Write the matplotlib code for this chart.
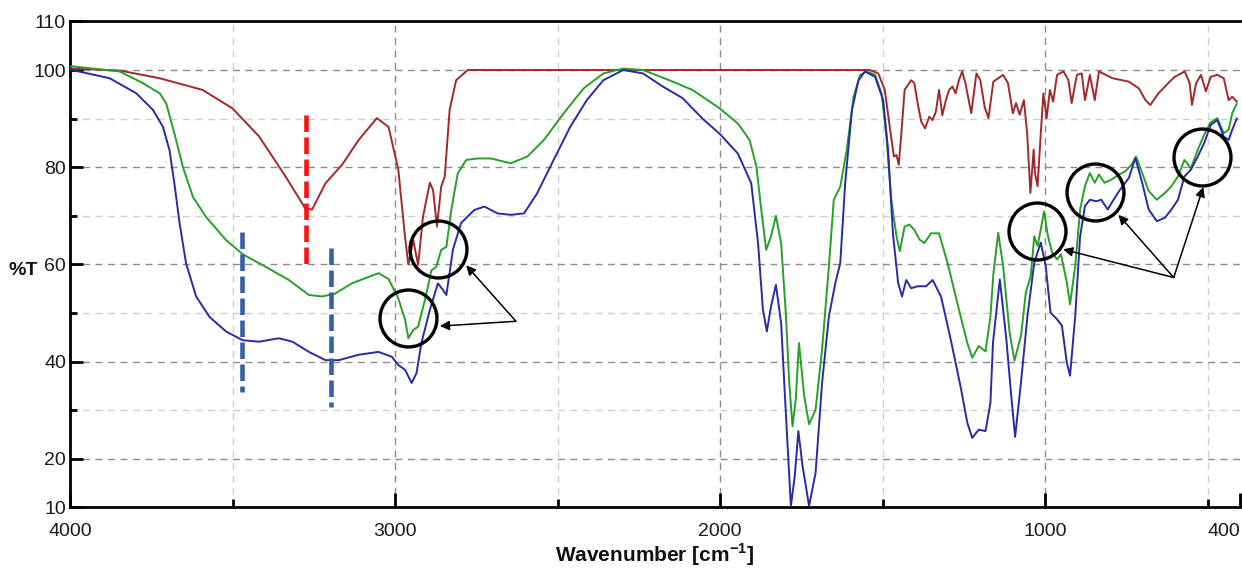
import numpy as np
import matplotlib
matplotlib.use('Agg')
from matplotlib import pyplot as plt
from matplotlib.ticker import FixedLocator

plt.rcParams['font.family'] = ['Liberation Sans', 'DejaVu Sans']
plt.rcParams['mathtext.fontset'] = 'custom'
plt.rcParams['mathtext.rm'] = 'Liberation Sans:bold'
plt.rcParams['mathtext.bf'] = 'Liberation Sans:bold'

# spectra: wavenumber (cm-1) and %T
red_wn = [4000, 3847, 3724, 3592, 3500, 3418, 3337, 3276, 3255, 3214, 3163, 3112, 3056, 3020,
          2990, 2969, 2959, 2944, 2929, 2914, 2893, 2883, 2871, 2858, 2847, 2832, 2812, 2776,
          2300, 1540, 1513, 1493, 1478, 1465, 1457, 1450, 1442, 1432, 1412, 1402, 1392, 1381,
          1369, 1356, 1346, 1336, 1326, 1316, 1305, 1295, 1285, 1275, 1265, 1255, 1245, 1227,
          1211, 1199, 1186, 1174, 1159, 1144, 1129, 1114, 1099, 1089, 1078, 1065, 1055, 1045,
          1035, 1031, 1023, 1013, 1005, 995, 985, 975, 963, 943, 928, 918, 902, 887, 877, 862,
          847, 834, 792, 742, 711, 691, 676, 651, 621, 601, 570, 555, 548, 535, 520, 505, 490,
          470, 450, 435, 424, 410]
red_t = [100.3, 99.9, 98.3, 95.9, 92.1, 86.3, 78.1, 71.5, 71.3, 76.7, 80.5, 85.6, 90.1, 88.3,
         79.5, 65.5, 60.0, 65.0, 59.9, 69.8, 76.8, 75.3, 67.8, 76.0, 78.1, 91.8, 97.9, 100.0,
         100.0, 100.0, 99.3, 95.9, 88.4, 82.2, 82.5, 80.5, 87.0, 95.9, 97.9, 97.3, 93.2, 89.4,
         88.0, 90.4, 89.7, 91.4, 95.9, 90.7, 93.8, 95.9, 96.6, 95.2, 97.9, 99.7, 97.3, 91.1,
         99.3, 97.9, 92.5, 90.1, 97.6, 98.3, 99.0, 97.3, 91.1, 93.2, 90.8, 93.8, 87.0, 74.7,
         83.6, 78.8, 76.1, 87.0, 95.2, 90.1, 95.9, 93.5, 99.0, 99.7, 97.9, 93.2, 99.0, 99.3, 93.8, 99.0,
         93.8, 99.7, 98.3, 97.6, 96.2, 93.8, 92.8, 95.2, 97.3, 98.6, 99.7, 97.3, 92.8, 97.3, 99.0, 95.6, 98.6,
         99.0, 98.3, 93.8, 94.5, 93.5]

green_wn = [4000, 3847, 3776, 3724, 3704, 3679, 3653, 3622, 3582, 3520, 3469, 3398, 3327, 3265,
            3224, 3184, 3133, 3051, 3020, 2990, 2969, 2959, 2944, 2929, 2908, 2888, 2873, 2858,
            2842, 2827, 2807, 2781, 2746, 2705, 2644, 2593, 2542, 2481, 2420, 2359, 2298, 2237,
            2156, 2085, 2005, 1945, 1909, 1888, 1873, 1858, 1843, 1828, 1812, 1797, 1787, 1777,
            1767, 1757, 1741, 1726, 1706, 1686, 1665, 1650, 1630, 1610, 1589, 1569, 1549, 1523,
            1503, 1488, 1473, 1457, 1447, 1432, 1417, 1402, 1386, 1371, 1351, 1326, 1300, 1270,
            1239, 1224, 1204, 1183, 1168, 1159, 1144, 1129, 1109, 1094, 1074, 1059, 1044, 1033,
            1023, 1013, 1003, 991, 978, 963, 951, 933, 923, 907, 892, 877, 862, 847, 834, 817,
            797, 772, 752, 734, 720, 701, 681, 656, 631, 611, 591, 571, 551, 530, 510, 492, 470,
            450, 435, 424, 410]
green_t = [100.8, 99.7, 97.3, 95.2, 93.1, 87.0, 80.1, 73.9, 69.8, 65.0, 62.1, 59.5, 56.8, 53.7,
           53.4, 54.0, 56.1, 58.2, 57.0, 53.0, 48.6, 44.8, 46.5, 47.2, 52.7, 58.8, 59.5, 63.0,
           63.6, 71.2, 78.7, 81.5, 81.8, 81.8, 80.8, 82.2, 85.6, 91.1, 96.2, 99.3, 100.3, 100.0,
           97.9, 95.9, 92.3, 89.0, 85.6, 80.1, 71.2, 63.0, 65.8, 70.0, 64.4, 49.3, 35.6, 26.7,
           32.2, 43.8, 32.9, 27.1, 30.1, 42.5, 59.6, 73.3, 76.0, 83.6, 94.5, 99.0, 99.7, 99.0,
           95.2, 86.3, 73.3, 65.8, 62.7, 67.8, 68.2, 67.1, 65.1, 64.4, 66.4, 66.4, 60.3, 52.1,
           43.8, 40.8, 43.2, 42.1, 49.3, 58.0, 66.5, 59.7, 46.0, 40.2, 45.3, 54.2, 57.6, 65.8,
           63.8, 67.2, 70.9, 65.8, 62.4, 61.0, 62.1, 56.3, 51.8, 59.7, 71.3, 76.1, 78.8, 76.8, 78.5, 76.8,
           77.4, 78.5, 79.2, 80.5, 82.2, 78.8, 75.1, 73.3, 74.7, 76.1, 78.1, 81.5, 79.8, 83.6, 86.7, 89.1, 90.1,
           87.0, 87.7, 91.1, 93.0]

blue_wn = [4000, 3878, 3796, 3745, 3714, 3694, 3679, 3663, 3643, 3612, 3571, 3520, 3469, 3418,
           3357, 3316, 3265, 3214, 3173, 3112, 3051, 3010, 2990, 2969, 2949, 2934, 2919, 2893,
           2868, 2852, 2842, 2822, 2797, 2756, 2725, 2685, 2644, 2603, 2563, 2512, 2461, 2410,
           2359, 2298, 2237, 2176, 2115, 2054, 2000, 1945, 1904, 1883, 1868, 1856, 1843, 1828,
           1812, 1797, 1782, 1770, 1759, 1746, 1726, 1706, 1686, 1665, 1645, 1630, 1615, 1594,
           1574, 1554, 1523, 1498, 1483, 1468, 1452, 1440, 1427, 1412, 1392, 1366, 1346, 1320,
           1290, 1260, 1239, 1224, 1204, 1183, 1168, 1160, 1139, 1119, 1104, 1092, 1074, 1054,
           1033, 1013, 998, 983, 963, 948, 933, 923, 907, 892, 877, 862, 842, 827, 807, 792,
           772, 742, 722, 701, 681, 656, 631, 611, 591, 571, 551, 530, 510, 490, 470, 450, 435,
           424, 410]
blue_t = [100.1, 98.3, 95.2, 91.8, 88.3, 83.5, 76.7, 68.5, 60.2, 53.4, 49.2, 46.2, 44.4, 44.1,
          44.8, 44.1, 42.0, 40.3, 40.3, 41.4, 42.0, 41.0, 39.3, 38.3, 35.6, 37.6, 43.8, 50.6,
          56.1, 54.7, 53.7, 63.0, 68.5, 71.2, 71.9, 70.5, 70.2, 70.5, 74.6, 81.5, 88.3, 93.8,
          97.9, 100.0, 99.3, 96.6, 94.2, 90.0, 86.8, 82.8, 76.7, 64.4, 50.7, 46.2, 51.4, 55.8,
          47.9, 28.8, 10.3, 16.4, 25.7, 18.5, 10.3, 17.1, 35.6, 49.3, 56.2, 60.3, 76.7, 91.8,
          97.9, 99.7, 98.6, 93.8, 83.6, 66.4, 56.2, 53.4, 56.8, 55.1, 55.5, 55.5, 56.8, 53.4,
          44.5, 34.9, 27.4, 24.3, 26.0, 25.7, 31.5, 44.0, 56.9, 44.6, 33.0, 24.5, 35.7, 49.4,
          60.4, 64.5, 59.7, 50.1, 48.7, 47.4, 39.8, 37.1, 49.4, 65.8, 72.0, 73.3, 73.0, 73.3, 71.3, 73.0,
          75.1, 77.8, 81.9, 76.8, 71.3, 68.9, 69.6, 71.3, 73.3, 78.1, 79.5, 82.2, 85.0, 88.7, 89.7, 86.3, 85.6,
          87.7, 90.0]

# annotation marks (wavenumber, top %T, bottom %T)
red_marks = [(3275, 90.7, 59.2)]
blue_marks = [(3470, 66.7, 33.8), (3197, 63.3, 30.7)]
circle_wn = [2867, 2959, 1026, 845, 516]
circle_t = [63.1, 48.9, 66.8, 75.0, 82.2]
arrow_tails = [(2628, 48.3), (604, 57.3)]
arrow_heads = [[(2781, 59.8), (2862, 47.3)],
               [(944, 63.1), (774, 70.2), (513, 75.9)]]

x_major = [4000, 3000, 2000, 1000, 400]
x_minor = [3500, 2500, 1500, 500]
y_major = [10, 20, 40, 60, 80, 100, 110]
y_minor = [30, 50, 70, 90]

fig = plt.figure(figsize=(12.42, 5.68), dpi=100)
ax = fig.add_axes([0.0564, 0.1067, 0.942, 0.8556])

ax.set_xlim(4000, 400)
ax.set_ylim(10, 110)

# grid
for v in [3000, 2000, 1000]:
    ax.axvline(v, color='#8c8c8c', lw=1.0, dashes=(5, 4), zorder=1)
for v in x_minor:
    ax.axvline(v, color='#cfcfcf', lw=1.0, dashes=(5, 4), zorder=1)
for v in [20, 40, 60, 80, 100]:
    ax.axhline(v, color='#8c8c8c', lw=1.0, dashes=(5, 4), zorder=1)
for v in y_minor:
    ax.axhline(v, color='#cfcfcf', lw=1.0, dashes=(5, 4), zorder=1)

ax.plot(red_wn, red_t, color='#a3282c', lw=1.4, zorder=3)
ax.plot(green_wn, green_t, color='#26a026', lw=1.4, zorder=3)
ax.plot(blue_wn, blue_t, color='#2a2aa8', lw=1.4, zorder=3)

for x, y1, y2 in red_marks:
    ax.plot([x, x], [y1, y2], color='#ff1010', lw=3.3, dashes=(3.6, 1.2), zorder=5)
for x, y1, y2 in blue_marks:
    ax.plot([x, x], [y1, y2], color='#3560a8', lw=3.3, dashes=(3.6, 1.2), zorder=5)

ax.plot(circle_wn, circle_t, ls='none', marker='o', ms=41, mfc='none',
        mec='black', mew=2.4, zorder=6)

for (tx, ty), heads in zip(arrow_tails, arrow_heads):
    for hx, hy in heads:
        ax.annotate('', xy=(hx, hy), xytext=(tx, ty),
                    arrowprops=dict(arrowstyle='-|>', color='black', lw=1.1,
                                    mutation_scale=14, shrinkA=0, shrinkB=0),
                    zorder=6)

ax.xaxis.set_major_locator(FixedLocator(x_major))
ax.xaxis.set_minor_locator(FixedLocator(x_minor))
ax.yaxis.set_major_locator(FixedLocator(y_major))
ax.yaxis.set_minor_locator(FixedLocator(y_minor))
ax.set_xticklabels([str(v) for v in x_major])
ax.set_yticklabels([str(v) for v in y_major])
ax.get_xticklabels()[-1].set_ha('right')

ax.tick_params(axis='x', which='major', direction='in', length=10, width=2,
               pad=11, labelsize=14, labelcolor='#1a1a1a')
ax.tick_params(axis='x', which='minor', direction='in', length=6, width=2)
ax.tick_params(axis='y', which='major', direction='in', length=9, width=2,
               pad=3, labelsize=14, labelcolor='#1a1a1a')
ax.tick_params(axis='y', which='minor', direction='in', length=5, width=2)

for s in ['top', 'left', 'bottom']:
    ax.spines[s].set_linewidth(2)
ax.spines['right'].set_visible(False)

ax.set_xlabel(r'Wavenumber [cm$^{\mathregular{-1}}$]', fontsize=15, fontweight='bold',
              color='#111111', labelpad=1)
ax.set_ylabel('%T', fontsize=14, fontweight='bold', rotation=0, color='#111111')
ax.yaxis.set_label_coords(-0.04, 0.47)

fig.savefig('out.png', dpi=100)
